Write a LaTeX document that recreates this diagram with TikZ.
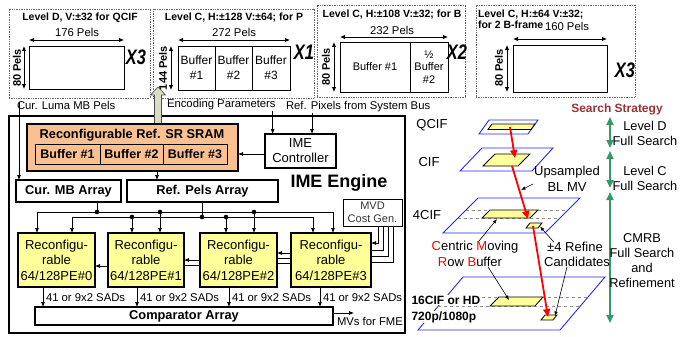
\documentclass[tikz,border=0pt]{standalone}
\usepackage{fontspec}
\usepackage{graphicx}
\setmainfont{Liberation Sans}
\usetikzlibrary{arrows.meta,calc}
\definecolor{peach}{HTML}{FAC090}
\definecolor{peyel}{HTML}{FFFF99}
\definecolor{hollow}{HTML}{D8DEC6}
\definecolor{sgreen}{HTML}{339966}
\definecolor{dred}{HTML}{993333}
\definecolor{pblue}{HTML}{2828F0}
\newcommand\setfs[1]{\fontsize{#1}{#1}\selectfont}
\newcommand\setfsl[2]{\fontsize{#1}{#2}\selectfont}
\newcommand\bigX[1]{\scalebox{0.78}[1]{\bfseries\itshape\setfs{21}#1}}
\begin{document}
\begin{tikzpicture}[x=1pt,y=-1pt,
  every node/.style={inner sep=0pt, outer sep=0pt},
  panel/.style={draw=black!60, densely dotted, line width=0.7pt, anchor=north west},
  dimbox/.style={draw, line width=0.8pt, anchor=north west, align=center},
  dimarr/.style={{Latex[length=5pt,width=4.5pt]}-{Latex[length=5pt,width=4.5pt]}, line width=0.8pt},
  arr/.style={-{Latex[length=5pt,width=4pt]}, line width=0.7pt},
  heavy/.style={draw, line width=2pt, anchor=north west, align=center},
  thinbox/.style={draw, line width=0.9pt, anchor=north west, align=center},
  ttl/.style={font=\bfseries\setfs{10.5}},
  sm/.style={font=\setfs{11.3}},
  pels/.style={font=\bfseries\setfs{11}, rotate=90},
  pebox/.style={heavy, fill=peyel, minimum height=54, font=\setfsl{13}{15.5}},
  body/.style={font=\setfs{12.8}},
  bbody/.style={font=\bfseries\setfs{12.8}},
  plane/.style={draw=pblue, line width=0.9pt},
  strip/.style={draw=black, fill=peyel, line width=0.8pt},
  redarr/.style={draw=red, line width=1.8pt, -{Triangle[length=8pt,width=7pt]}},
  grnarr/.style={draw=sgreen, line width=1.8pt, {Triangle[length=8pt,width=7pt]}-{Triangle[length=8pt,width=7pt]}},
  note/.style={-{Latex[length=4.5pt,width=3.5pt]}, line width=0.6pt}
]
\useasboundingbox (0,0) rectangle (680,337);

% ---------- Panel 1 ----------
\node[panel, minimum width=141, minimum height=89] (p1) at (9,9) {};
\node[ttl] (t1) at (80,18) {Level D, V:±32 for QCIF};
\node[sm] (w1) at (77,32) {176 Pels};
\node[dimbox, minimum width=95, minimum height=43] (r1) at (29,46) {};
\draw[dimarr] ([yshift=6pt]r1.north west) -- ([yshift=6pt]r1.north east);
\draw[dimarr] ([xshift=-5pt]r1.north west) -- ([xshift=-5pt]r1.south west);
\node[pels] (h1) at (17,68) {80 Pels};
\node (x1) at (136,57) {\bigX{X3}};

% ---------- Panel 2 ----------
\node[panel, minimum width=161, minimum height=89] (p2) at (153,9) {};
\node[ttl] (t2) at (234,18) {Level C, H:±128 V:±64; for P};
\node[sm] (w2) at (234,32) {272 Pels};
\node[dimbox, minimum width=37, minimum height=44, font=\setfsl{12}{15}] (b21) at (178,46) {Buffer\\\#1};
\node[dimbox, minimum width=37, minimum height=44, font=\setfsl{12}{15}] (b22) at (215,46) {Buffer\\\#2};
\node[dimbox, minimum width=38, minimum height=44, font=\setfsl{12}{15}] (b23) at (252,46) {Buffer\\\#3};
\draw[dimarr] ([yshift=6pt]b21.north west) -- ([yshift=6pt]b23.north east);
\draw[dimarr] ([xshift=-7pt]b21.north west) -- ([xshift=-7pt]b21.south west);
\node[pels] (h2) at (163,68) {144 Pels};
\node (x2) at (304,52) {\bigX{X1}};

% ---------- Panel 3 ----------
\node[panel, minimum width=148, minimum height=92] (p3) at (317,5) {};
\node[ttl] (t3) at (392,15) {Level C, H:±108 V:±32; for B};
\node[sm] (w3) at (392,30) {232 Pels};
\node[dimbox, minimum width=70, minimum height=50, font=\setfs{11}] (b31) at (340,42) {Buffer \#1};
\node[dimbox, minimum width=38, minimum height=50, font=\setfsl{11}{12.5}] (b32) at (410,42) {½\\Buffer\\\#2};
\draw[dimarr] ([yshift=5pt]b31.north west) -- ([yshift=5pt]b32.north east);
\draw[dimarr] ([xshift=-6pt]b31.north west) -- ([xshift=-6pt]b31.south west);
\node[pels] (h3) at (326,67) {80 Pels};
\node (x3) at (457,52) {\bigX{X2}};

% ---------- Panel 4 ----------
\node[panel, minimum width=159, minimum height=92] (p4) at (476,5) {};
\node[anchor=north west, align=left, font=\bfseries\setfsl{10.5}{10.5}] (t4) at (478,10) {Level C, H:±64 V:±32;\\for 2 B-frame};
\node[sm] (w4) at (567,26) {160 Pels};
\node[dimbox, minimum width=94, minimum height=47] (r4) at (513,45) {};
\draw[dimarr] ([yshift=6pt]r4.north west) -- ([yshift=6pt]r4.north east);
\draw[dimarr] ([xshift=-6pt]r4.north west) -- ([xshift=-6pt]r4.south west);
\node[pels] (h4) at (499,68) {80 Pels};
\node (x4) at (625,70) {\bigX{X3}};

% ---------- IME engine ----------
\node[heavy, minimum width=396, minimum height=217] (ime) at (9,116) {};
\draw[fill=hollow, draw=black!70, line width=0.6pt] (154.5,124) -- (154.5,95) -- (150.5,95) -- (158,87) -- (165.5,95) -- (161.5,95) -- (161.5,124) -- cycle;

\node[sm, anchor=west] (lcur) at (17,105) {Cur. Luma MB Pels};
\node[sm, anchor=west] (lenc) at (167,105) {Encoding Parameters};
\node[sm, anchor=west] (lref) at (286,107) {Ref. Pixels from System Bus};

\node[heavy, fill=peach, minimum width=211, minimum height=47] (sram) at (27,124) {};
\node[bbody] (sramt) at (132,135.5) {Reconfigurable Ref. SR SRAM};
\node[thinbox, minimum width=65, minimum height=20, font=\bfseries\setfs{12.5}] (sb1) at (35,144) {Buffer \#1};
\node[thinbox, minimum width=63, minimum height=20, font=\bfseries\setfs{12.5}] (sb2) at (100,144) {Buffer \#2};
\node[thinbox, minimum width=64, minimum height=20, font=\bfseries\setfs{12.5}] (sb3) at (163,144) {Buffer \#3};

\node[draw, line width=1.2pt, anchor=north west, minimum width=71, minimum height=34, align=center, font=\setfsl{13}{15}] (ctrl) at (265,134) {IME\\Controller};
\draw[arr] ([xshift=-3pt,yshift=-1pt]lenc.south east) -- ([xshift=-3pt]lenc.south east |- ctrl.north);
\draw[arr] ([xshift=26pt,yshift=-1pt]lref.south west) -- ([xshift=26pt]lref.south west |- ctrl.north);
\draw[arr] ([yshift=-3pt]ctrl.west) -- ([yshift=-3pt]ctrl.west -| sram.east);

\node[heavy, minimum width=105, minimum height=22, font=\bfseries\setfs{12.8}] (curmb) at (16,180) {Cur. MB Array};
\node[heavy, minimum width=151, minimum height=22, font=\bfseries\setfs{12.8}] (refpels) at (127,180) {Ref. Pels Array};
\node[font=\bfseries\setfs{18}] (imet) at (339,183) {IME Engine};

\coordinate (cin) at (19,102);
\draw[arr] (cin) -- (cin |- curmb.north);
\draw[arr] (sram.south -| 157,0) -- (refpels.north -| 157,0);

% PEs
\node[pebox, minimum width=77] (pe0) at (18,233) {Reconfigu-\\rable\\64/128PE\#0};
\node[pebox, minimum width=76] (pe1) at (108,233) {Reconfigu-\\rable\\64/128PE\#1};
\node[pebox, minimum width=77] (pe2) at (200,233) {Reconfigu-\\rable\\64/128PE\#2};
\node[pebox, minimum width=80] (pe3) at (291,233) {Reconfigu-\\rable\\64/128PE\#3};
\node[thinbox, minimum width=59, minimum height=27, font=\setfsl{11}{13.5}, text=black!80] (mvd) at (343,199) {MVD\\Cost Gen.};

% buses
\draw[line width=0.8pt] (curmb.south -| 97,0) -- (97,212);
\draw[line width=0.8pt] (refpels.south -| 202,0) -- (202,217);
\draw[line width=0.8pt] (37,212) -- (333,212);
\draw[line width=0.8pt] (72,217) -- (313,217);
\foreach \x in {97,160,254} \fill (\x,212) circle (2.3pt);
\foreach \x in {132,202,226} \fill (\x,217) circle (2.3pt);
\draw[arr] (37,212) -- (pe0.north -| 37,0);
\draw[arr] (72,217) -- (pe0.north -| 72,0);
\draw[arr] (132,217) -- (pe1.north -| 132,0);
\draw[arr] (160,212) -- (pe1.north -| 160,0);
\draw[arr] (226,217) -- (pe2.north -| 226,0);
\draw[arr] (254,212) -- (pe2.north -| 254,0);
\draw[arr] (313,217) -- (pe3.north -| 313,0);
\draw[arr] (333,212) -- (pe3.north -| 333,0);

% MVD lines
\draw[arr] (mvd.south -| 378,0) |- (pe3.east |- 0,243);
\draw[line width=0.7pt] (mvd.south -| 383,0) |- (pe3.east |- 0,250);
\draw[arr] (pe3.west |- 0,253) -- (pe2.east |- 0,253);
\draw[line width=0.7pt] (mvd.south -| 388,0) |- (pe3.east |- 0,256);
\draw[line width=0.7pt] (pe3.west |- 0,258) -- (pe2.east |- 0,258);
\draw[arr] (pe2.west |- 0,260) -- (pe1.east |- 0,260);
\draw[line width=0.7pt] (mvd.south -| 393,0) |- (pe3.east |- 0,262);
\draw[line width=0.7pt] (pe3.west |- 0,263) -- (pe2.east |- 0,263);
\draw[line width=0.7pt] (pe2.west |- 0,265) -- (pe1.east |- 0,265);
\draw[arr] (pe1.west |- 0,266) -- (pe0.east |- 0,266);

% comparator
\node[draw, line width=1.5pt, anchor=north west, minimum width=298, minimum height=18, font=\bfseries\setfs{12.8}] (comp) at (35,307) {Comparator Array};
\draw[arr] (pe0.south -| 43,0) -- (comp.north -| 43,0);
\draw[arr] (pe1.south -| 137,0) -- (comp.north -| 137,0);
\draw[arr] (pe2.south -| 229,0) -- (comp.north -| 229,0);
\draw[arr] (pe3.south -| 320,0) -- (comp.north -| 320,0);
\node[sm, anchor=west] (s0) at (46,298) {41 or 9x2 SADs};
\node[sm, anchor=west] (s1) at (140,298) {41 or 9x2 SADs};
\node[sm, anchor=west] (s2) at (232,298) {41 or 9x2 SADs};
\node[sm, anchor=west] (s3) at (323,298) {41 or 9x2 SADs};
\coordinate (mvout) at (354,313);
\draw[arr] (comp.east |- mvout) -- (mvout);
\node[sm, anchor=west] (mvl) at (337,321) {MVs for FME};

% ---------- Right: hierarchy ----------
\node[font=\bfseries\setfs{12}, text=dred] (ss) at (617,109) {Search Strategy};
\coordinate (g1a) at (610,117); \coordinate (g1b) at (610,148);
\coordinate (g2a) at (610,151); \coordinate (g2b) at (610,188);
\coordinate (g3a) at (610,192); \coordinate (g3b) at (610,323);
\draw[grnarr] (g1a) -- (g1b);
\draw[grnarr] (g2a) -- (g2b);
\draw[grnarr] (g3a) -- (g3b);
\node[body] at (645,126) {Level D};
\node[body] at (645,141) {Full Search};
\node[body] at (645,171) {Level C};
\node[body] at (645,185.5) {Full Search};
\node[body, align=center, font=\setfsl{12.8}{15}] at (642,260.5) {CMRB\\Full Search\\and\\Refinement};

% QCIF
\draw[plane] (489,120) -- (538,120) -- (528,134) -- (479,134) -- cycle;
\draw[strip] (492,124) -- (535,124) -- (531,129.5) -- (488,129.5) -- cycle;
\node[body, font=\setfs{13}] at (432,125) {QCIF};
% CIF
\draw[plane] (482,148) -- (553,148) -- (532,171) -- (460,171) -- cycle;
\draw[strip] (495,154) -- (530,154) -- (518,166) -- (483,166) -- cycle;
\node[body, font=\setfs{13}] at (429,162) {CIF};
% 4CIF
\draw[plane] (478,198) -- (580,198) -- (545,233) -- (443,233) -- cycle;
\draw[dashed, draw=black!45, line width=0.7pt] (466,210) -- (568,210);
\draw[dashed, draw=black!45, line width=0.7pt] (458,218) -- (560,218);
\draw[strip] (490,210) -- (538,210) -- (530,218) -- (482,218) -- cycle;
\draw[strip] (530,223) -- (542,223) -- (538,228) -- (526,228) -- cycle;
\node[body, font=\setfs{13}] at (427,215) {4CIF};
% 16CIF
\draw[plane] (463,277) -- (605,277) -- (560,330) -- (418,330) -- cycle;
\draw[dashed, draw=black!45, line width=0.7pt] (446,297) -- (588,297);
\draw[dashed, draw=black!45, line width=0.7pt] (438,306) -- (580,306);
\draw[strip] (499,297) -- (543,297) -- (535,306) -- (490,306) -- cycle;
\draw[strip] (545,315) -- (557,315) -- (553,320) -- (541,320) -- cycle;
\node[anchor=west, fill=white, inner sep=0.5pt, font=\bfseries\setfs{12}] (l16a) at (411,300) {16CIF or HD};
\node[anchor=west, fill=white, inner sep=0.5pt, font=\bfseries\setfs{12}] (l16b) at (411,317) {720p/1080p};

% red MV arrows
\coordinate (q0) at (510,127); \coordinate (c0) at (515,158);
\coordinate (c1) at (512,166); \coordinate (f0) at (528,219);
\coordinate (f1) at (533,226); \coordinate (h0) at (548,317);
\draw[redarr] (q0) -- (c0);
\draw[redarr] (c1) -- (f0);
\draw[redarr] (f1) -- (h0);

% annotations
\node[body, font=\setfs{13}] (ups) at (567,172) {Upsampled};
\node[body, font=\setfs{13}] (blmv) at (567,187) {BL MV};
\coordinate (upsa) at (533,184); \coordinate (upsb) at (521,190);
\draw[note] (upsa) -- (upsb);
\node[font=\setfs{13}] (cmrb1) at (475,247) {\textcolor{red}{C}entric \textcolor{red}{M}oving};
\node[font=\setfs{13}] (cmrb2) at (470,262) {\textcolor{red}{R}ow \textcolor{red}{B}uffer};
\draw[note] ([xshift=4pt]cmrb1.north) -- (497,219);
\draw[note] ([xshift=18pt]cmrb2.south) -- (509,300);
\node[font=\setfs{13}] (ref1) at (575,247) {±4 Refine};
\node[font=\setfs{13}] (ref2) at (577,262) {Candidates};
\draw[note] ([xshift=-21pt]ref1.north) -- (540,226.5);
\draw[note] ([xshift=-10pt]ref2.south) -- (555,316);
\end{tikzpicture}
\end{document}
